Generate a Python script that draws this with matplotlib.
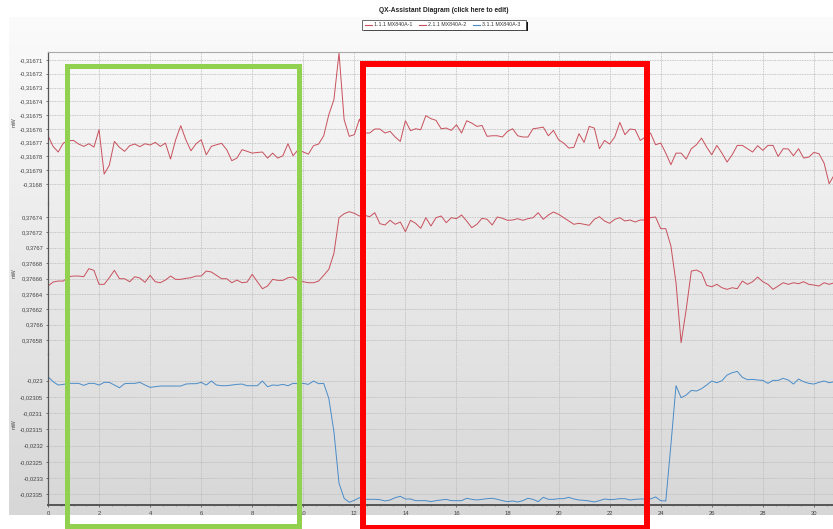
import numpy as np
import matplotlib
matplotlib.use("Agg")
import matplotlib.pyplot as plt
from matplotlib.patches import Rectangle
from matplotlib.lines import Line2D
from matplotlib.ticker import FuncFormatter, MultipleLocator, FixedLocator

plt.rcParams['font.family'] = ['Liberation Sans', 'DejaVu Sans']

title = "QX-Assistant Diagram (click here to edit)"
names = ["1.1.1 MX840A-1", "2.1.1 MX840A-2", "3.1.1 MX840A-3"]

# sample interval 0.2 s
time_s = np.arange(155) * 0.2

mw1 = [-0.3167650, -0.3167727, -0.3167768, -0.3167703, -0.3167686, -0.3167684, -0.3167710, -0.3167727, -0.3167708, -0.3167732,
       -0.3167606, -0.3167928, -0.3167865, -0.3167691, -0.3167734, -0.3167763, -0.3167722, -0.3167710, -0.3167729, -0.3167708,
       -0.3167717, -0.3167698, -0.3167727, -0.3167703, -0.3167819, -0.3167679, -0.3167577, -0.3167679, -0.3167759, -0.3167708,
       -0.3167679, -0.3167788, -0.3167727, -0.3167715, -0.3167705, -0.3167751, -0.3167831, -0.3167812, -0.3167751, -0.3167763,
       -0.3167776, -0.3167771, -0.3167768, -0.3167812, -0.3167776, -0.3167812, -0.3167795, -0.3167708, -0.3167795, -0.3167751,
       -0.3167768, -0.3167783, -0.3167722, -0.3167710, -0.3167650, -0.3167497, -0.3167388, -0.3167049, -0.3167533, -0.3167654,
       -0.3167642, -0.3167529, -0.3167630, -0.3167630, -0.3167601, -0.3167601, -0.3167630, -0.3167618, -0.3167659, -0.3167691,
       -0.3167541, -0.3167613, -0.3167599, -0.3167606, -0.3167504, -0.3167526, -0.3167538, -0.3167599, -0.3167594, -0.3167611,
       -0.3167570, -0.3167630, -0.3167541, -0.3167558, -0.3167582, -0.3167575, -0.3167654, -0.3167650, -0.3167650, -0.3167659,
       -0.3167618, -0.3167599, -0.3167650, -0.3167659, -0.3167659, -0.3167599, -0.3167594, -0.3167587, -0.3167650, -0.3167611,
       -0.3167679, -0.3167703, -0.3167739, -0.3167734, -0.3167635, -0.3167698, -0.3167582, -0.3167594, -0.3167744, -0.3167684,
       -0.3167710, -0.3167659, -0.3167553, -0.3167642, -0.3167601, -0.3167606, -0.3167684, -0.3167659, -0.3167630, -0.3167715,
       -0.3167703, -0.3167776, -0.3167860, -0.3167776, -0.3167776, -0.3167819, -0.3167744, -0.3167715, -0.3167667, -0.3167732,
       -0.3167788, -0.3167720, -0.3167776, -0.3167841, -0.3167788, -0.3167720, -0.3167720, -0.3167744, -0.3167768, -0.3167722,
       -0.3167756, -0.3167720, -0.3167720, -0.3167800, -0.3167744, -0.3167746, -0.3167795, -0.3167744, -0.3167812, -0.3167805,
       -0.3167771, -0.3167780, -0.3167848, -0.3167998, -0.3167933]

mw2 = [0.3766502, 0.3766554, 0.3766567, 0.3766567, 0.3766623, 0.3766632, 0.3766632, 0.3766623, 0.3766728, 0.3766706,
       0.3766524, 0.3766524, 0.3766610, 0.3766706, 0.3766597, 0.3766597, 0.3766558, 0.3766623, 0.3766606, 0.3766550,
       0.3766641, 0.3766558, 0.3766545, 0.3766580, 0.3766632, 0.3766589, 0.3766589, 0.3766602, 0.3766610, 0.3766632,
       0.3766632, 0.3766697, 0.3766684, 0.3766641, 0.3766597, 0.3766597, 0.3766545, 0.3766580, 0.3766545, 0.3766554,
       0.3766654, 0.3766558, 0.3766467, 0.3766502, 0.3766589, 0.3766576, 0.3766576, 0.3766610, 0.3766619, 0.3766567,
       0.3766558, 0.3766545, 0.3766545, 0.3766567, 0.3766641, 0.3766719, 0.3766927, 0.3767391, 0.3767443, 0.3767469,
       0.3767448, 0.3767413, 0.3767422, 0.3767404, 0.3767456, 0.3767313, 0.3767296, 0.3767357, 0.3767305, 0.3767335,
       0.3767209, 0.3767357, 0.3767318, 0.3767253, 0.3767391, 0.3767283, 0.3767391, 0.3767413, 0.3767326, 0.3767391,
       0.3767378, 0.3767426, 0.3767348, 0.3767261, 0.3767305, 0.3767383, 0.3767370, 0.3767296, 0.3767400, 0.3767383,
       0.3767357, 0.3767361, 0.3767378, 0.3767357, 0.3767378, 0.3767391, 0.3767456, 0.3767370, 0.3767426, 0.3767465,
       0.3767435, 0.3767391, 0.3767348, 0.3767305, 0.3767318, 0.3767305, 0.3767292, 0.3767370, 0.3767404, 0.3767348,
       0.3767318, 0.3767370, 0.3767391, 0.3767348, 0.3767361, 0.3767335, 0.3767361, 0.3767361, 0.3767391, 0.3767400,
       0.3767248, 0.3767248, 0.3767023, 0.3766545, 0.3765765, 0.3766198, 0.3766697, 0.3766710, 0.3766676, 0.3766511,
       0.3766493, 0.3766524, 0.3766480, 0.3766459, 0.3766480, 0.3766467, 0.3766567, 0.3766524, 0.3766558, 0.3766619,
       0.3766558, 0.3766524, 0.3766459, 0.3766502, 0.3766545, 0.3766524, 0.3766545, 0.3766532, 0.3766558, 0.3766524,
       0.3766515, 0.3766502, 0.3766545, 0.3766524, 0.3766545]

mw3 = [-0.0229877, -0.0230031, -0.0230133, -0.0230113, -0.0230082, -0.0230082, -0.0230082, -0.0230144, -0.0230082, -0.0230082,
       -0.0230133, -0.0230051, -0.0230051, -0.0230133, -0.0230216, -0.0230092, -0.0230082, -0.0230082, -0.0230051, -0.0230133,
       -0.0230205, -0.0230185, -0.0230164, -0.0230164, -0.0230164, -0.0230164, -0.0230164, -0.0230103, -0.0230092, -0.0230092,
       -0.0230051, -0.0230133, -0.0230010, -0.0230133, -0.0230154, -0.0230154, -0.0230133, -0.0230113, -0.0230103, -0.0230154,
       -0.0230154, -0.0230154, -0.0230010, -0.0230185, -0.0230133, -0.0230144, -0.0230113, -0.0230154, -0.0230082, -0.0230092,
       -0.0230082, -0.0230113, -0.0230010, -0.0230092, -0.0230082, -0.0230544, -0.0231571, -0.0233162, -0.0233624, -0.0233747,
       -0.0233686, -0.0233604, -0.0233655, -0.0233655, -0.0233655, -0.0233665, -0.0233706, -0.0233676, -0.0233604, -0.0233563,
       -0.0233645, -0.0233645, -0.0233696, -0.0233696, -0.0233696, -0.0233727, -0.0233696, -0.0233676, -0.0233655, -0.0233696,
       -0.0233696, -0.0233696, -0.0233624, -0.0233655, -0.0233676, -0.0233655, -0.0233635, -0.0233624, -0.0233655, -0.0233696,
       -0.0233727, -0.0233706, -0.0233737, -0.0233696, -0.0233624, -0.0233655, -0.0233727, -0.0233593, -0.0233655, -0.0233655,
       -0.0233635, -0.0233635, -0.0233593, -0.0233645, -0.0233676, -0.0233686, -0.0233706, -0.0233737, -0.0233696, -0.0233645,
       -0.0233665, -0.0233655, -0.0233635, -0.0233635, -0.0233676, -0.0233655, -0.0233645, -0.0233645, -0.0233645, -0.0233583,
       -0.0233696, -0.0233706, -0.0231981, -0.0230154, -0.0230524, -0.0230441, -0.0230298, -0.0230318, -0.0230246, -0.0230133,
       -0.0230010, -0.0230062, -0.0230000, -0.0229825, -0.0229754, -0.0229713, -0.0229897, -0.0229969, -0.0229959, -0.0229979,
       -0.0229990, -0.0230082, -0.0229990, -0.0229990, -0.0229928, -0.0229979, -0.0230103, -0.0229949, -0.0230031, -0.0230082,
       -0.0230103, -0.0230051, -0.0230010, -0.0230062, -0.0230031]

yticks1 = [-0.31671, -0.31672, -0.31673, -0.31674, -0.31675, -0.31676, -0.31677, -0.31678, -0.31679, -0.3168]
yticks2 = [0.37674, 0.37672, 0.3767, 0.37668, 0.37666, 0.37664, 0.37662, 0.3766, 0.37658]
yticks3 = [-0.023, -0.02305, -0.0231, -0.02315, -0.0232, -0.02325, -0.0233, -0.02335]

ylims = [(-0.3168138, -0.3167042), (0.3765618, 0.3767582), (-0.0233830, -0.0229177)]
colors = ["#c8505c", "#c8505c", "#4a8cc8"]

W, H = 833, 529
fig = plt.figure(figsize=(W / 100, H / 100), dpi=100)

# grey gradient panel behind the chart
bg = fig.add_axes([9 / W, 1 - 515 / H, 1 - 9 / W, (515 - 17) / H], zorder=-10)
grad = np.linspace(0, 1, 256).reshape(-1, 1)
bg.imshow(grad, aspect='auto', cmap=matplotlib.colors.LinearSegmentedColormap.from_list(
    "g", ["#fbfbfb", "#d7d7d7"]), extent=(0, 1, 0, 1), origin='upper')
bg.axis('off')

def fmt(v, pos):
    s = f"{v:.5f}".rstrip('0').rstrip('.')
    return s.replace('.', ',')

tops = [52, 203, 354]
axes = []
for k, (data, ylim, ticks, c) in enumerate(zip([mw1, mw2, mw3], ylims,
                                                [yticks1, yticks2, yticks3], colors)):
    ax = fig.add_axes([48 / W, 1 - (tops[k] + 151) / H, 1 - 48 / W, 151 / H])
    ax.patch.set_alpha(0)
    ax.plot(time_s, data, color=c, lw=0.7, label=names[k])
    ax.set_xlim(0, 30.75)
    ax.set_ylim(*ylim)
    ax.xaxis.set_major_locator(MultipleLocator(2))
    ax.yaxis.set_major_locator(FixedLocator(ticks))
    ax.yaxis.set_major_formatter(FuncFormatter(fmt))
    ax.grid(True, color="#b8b8b8", linestyle=(0, (1, 1)), lw=0.6)
    ax.tick_params(axis='y', labelsize=4.2, length=1.5, width=0.5, pad=2, colors="#444444")
    ax.tick_params(axis='x', labelsize=4.2, length=1.5, width=0.5, pad=3, colors="#444444")
    ax.spines['right'].set_visible(False)
    ax.spines['left'].set_color("#555555")
    ax.spines['left'].set_linewidth(0.9)
    if k < 2:
        ax.tick_params(axis='x', labelbottom=False, length=0)
        ax.spines['bottom'].set_visible(False)
    else:
        ax.xaxis.set_minor_locator(MultipleLocator(0.5))
        ax.tick_params(axis='x', which='minor', length=1, width=0.4, color="#555555")
        ax.spines['bottom'].set_color("#555555")
        ax.spines['bottom'].set_linewidth(1.4)
    if k == 0:
        ax.spines['top'].set_color("#aaaaaa")
        ax.spines['top'].set_linewidth(0.8)
    else:
        ax.spines['top'].set_visible(False)
    fig.text(14 / W, 1 - (tops[k] + 70) / H, "mW", rotation=90, fontsize=4,
             color="#444444", ha='center', va='center')
    axes.append(ax)

fig.text(444 / W, 1 - 10 / H, title, fontsize=4.8, fontweight='bold',
         ha='center', va='center', color="#222222")

# legend box with hard shadow, drawn by hand
lx0, ly0, lx1, ly1 = 362, 20.5, 526, 29.5
fig.add_artist(Rectangle(((lx0 + 1.5) / W, 1 - (ly1 + 1.5) / H), (lx1 - lx0) / W, (ly1 - ly0) / H,
                         transform=fig.transFigure, facecolor="#111111", edgecolor='none', zorder=5))
fig.add_artist(Rectangle((lx0 / W, 1 - ly1 / H), (lx1 - lx0) / W, (ly1 - ly0) / H,
                         transform=fig.transFigure, facecolor="white", edgecolor="#333333",
                         lw=0.5, zorder=6))
ymid = 1 - (ly0 + ly1) / 2 / H
for k, (nm, c) in enumerate(zip(names, colors)):
    x0 = lx0 + 3 + k * 54
    fig.add_artist(Line2D([x0 / W, (x0 + 7) / W], [ymid, ymid], transform=fig.transFigure,
                          color=c, lw=0.8, zorder=7))
    fig.text((x0 + 9) / W, ymid, nm, fontsize=3.8, color="#333333",
             ha='left', va='center', zorder=7)

# highlight boxes drawn over the chart
def box(x0, y0, x1, y1, col, lw):
    r = Rectangle((x0 / W, 1 - y1 / H), (x1 - x0) / W, (y1 - y0) / H,
                  transform=fig.transFigure, fill=False, edgecolor=col, lw=lw,
                  joinstyle='miter', zorder=20)
    fig.add_artist(r)

box(66.8, 65.8, 299.2, 526.3, "#92d050", 3.6)
box(363.3, 64, 647, 527.5, "#ff0000", 4.3)

fig.savefig("out.png", dpi=100)
